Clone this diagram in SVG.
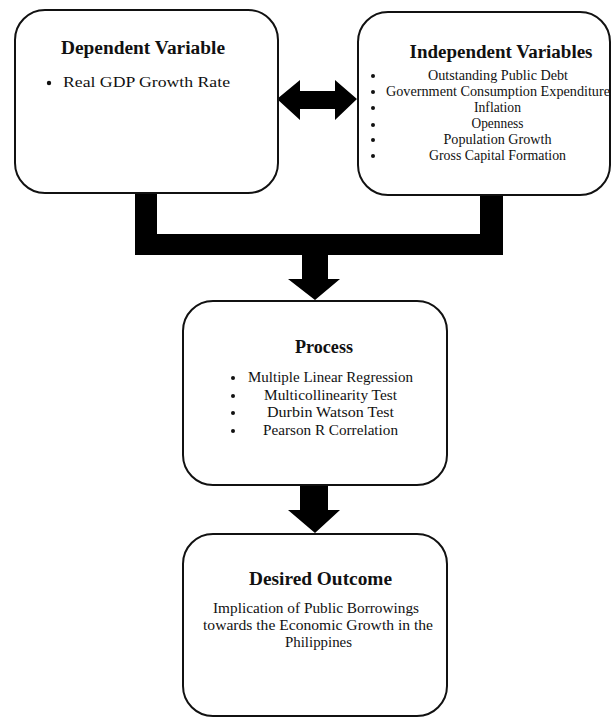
<svg xmlns="http://www.w3.org/2000/svg" width="612" height="717" viewBox="0 0 612 717">
<style>
.box{fill:#fff;stroke:#111;stroke-width:2}
.t{font-family:"Liberation Serif","Times New Roman",serif;fill:#111;text-anchor:middle}
.h{font-weight:bold;font-size:18px}
.i{font-size:14px}
.conn{fill:#000;stroke:none}
</style>
<rect width="612" height="717" fill="#fff"/>
<g id="connectors">
<path class="conn" d="M135,193 L157,193 L157,234 L480,234 L480,196 L503,196 L503,255 L328,255 L328,279 L340,279 L315,300 L288,279 L302,279 L302,255 L135,255 Z"/>
<path class="conn" d="M277,99 L300,80 L300,91 L335,91 L335,80 L357,99 L335,120 L335,109 L300,109 L300,120 Z"/>
<path class="conn" d="M300,485 L328,485 L328,510 L340,510 L315,533 L288,510 L300,510 Z"/>
</g>
<g id="dependent">
<rect class="box" x="15" y="10" width="263" height="183" rx="30"/>
<text class="t h" x="143" y="54" textLength="164" lengthAdjust="spacingAndGlyphs">Dependent Variable</text>
<circle cx="49" cy="83" r="2.2" fill="#111"/>
<text class="t i" x="146.5" y="87" textLength="167" lengthAdjust="spacingAndGlyphs">Real GDP Growth Rate</text>
</g>
<g id="independent">
<rect class="box" x="358" y="12" width="252" height="183" rx="30"/>
<text class="t h" x="501" y="58" textLength="183" lengthAdjust="spacingAndGlyphs">Independent Variables</text>
<g fill="#111">
<circle cx="373" cy="76" r="2"/>
<circle cx="373" cy="92" r="2"/>
<circle cx="373" cy="108" r="2"/>
<circle cx="373" cy="125" r="2"/>
<circle cx="373" cy="140" r="2"/>
<circle cx="373" cy="156" r="2"/>
</g>
<text class="t i" x="498" y="80" font-size="13" textLength="140" lengthAdjust="spacingAndGlyphs">Outstanding Public Debt</text>
<text class="t i" x="498" y="96" font-size="13" textLength="224" lengthAdjust="spacingAndGlyphs">Government Consumption Expenditure</text>
<text class="t i" x="497.5" y="112" font-size="13" textLength="47" lengthAdjust="spacingAndGlyphs">Inflation</text>
<text class="t i" x="497.5" y="128" font-size="13" textLength="52" lengthAdjust="spacingAndGlyphs">Openness</text>
<text class="t i" x="497.5" y="144" font-size="13" textLength="108" lengthAdjust="spacingAndGlyphs">Population Growth</text>
<text class="t i" x="497.5" y="160" font-size="13" textLength="137" lengthAdjust="spacingAndGlyphs">Gross Capital Formation</text>
</g>
<g id="process">
<rect class="box" x="183" y="301" width="264" height="184" rx="30"/>
<text class="t h" x="324" y="353" font-size="16" textLength="58" lengthAdjust="spacingAndGlyphs">Process</text>
<g fill="#111">
<circle cx="233" cy="378" r="2"/>
<circle cx="233" cy="396" r="2"/>
<circle cx="233" cy="413" r="2"/>
<circle cx="233" cy="431" r="2"/>
</g>
<text class="t i" x="330.5" y="382" font-size="13" textLength="165" lengthAdjust="spacingAndGlyphs">Multiple Linear Regression</text>
<text class="t i" x="330.5" y="400" font-size="13" textLength="133" lengthAdjust="spacingAndGlyphs">Multicollinearity Test</text>
<text class="t i" x="330.5" y="417" font-size="13" textLength="127" lengthAdjust="spacingAndGlyphs">Durbin Watson Test</text>
<text class="t i" x="330.5" y="435" font-size="13" textLength="135" lengthAdjust="spacingAndGlyphs">Pearson R Correlation</text>
</g>
<g id="outcome">
<rect class="box" x="183" y="534" width="264" height="182" rx="30"/>
<text class="t h" x="320.5" y="585" font-size="17" textLength="143" lengthAdjust="spacingAndGlyphs">Desired Outcome</text>
<text class="t i" x="316" y="613" font-size="13" textLength="206" lengthAdjust="spacingAndGlyphs">Implication of Public Borrowings</text>
<text class="t i" x="318" y="630" font-size="13" textLength="230" lengthAdjust="spacingAndGlyphs">towards the Economic Growth in the</text>
<text class="t i" x="318.5" y="647" font-size="13" textLength="67" lengthAdjust="spacingAndGlyphs">Philippines</text>
</g>
</svg>
